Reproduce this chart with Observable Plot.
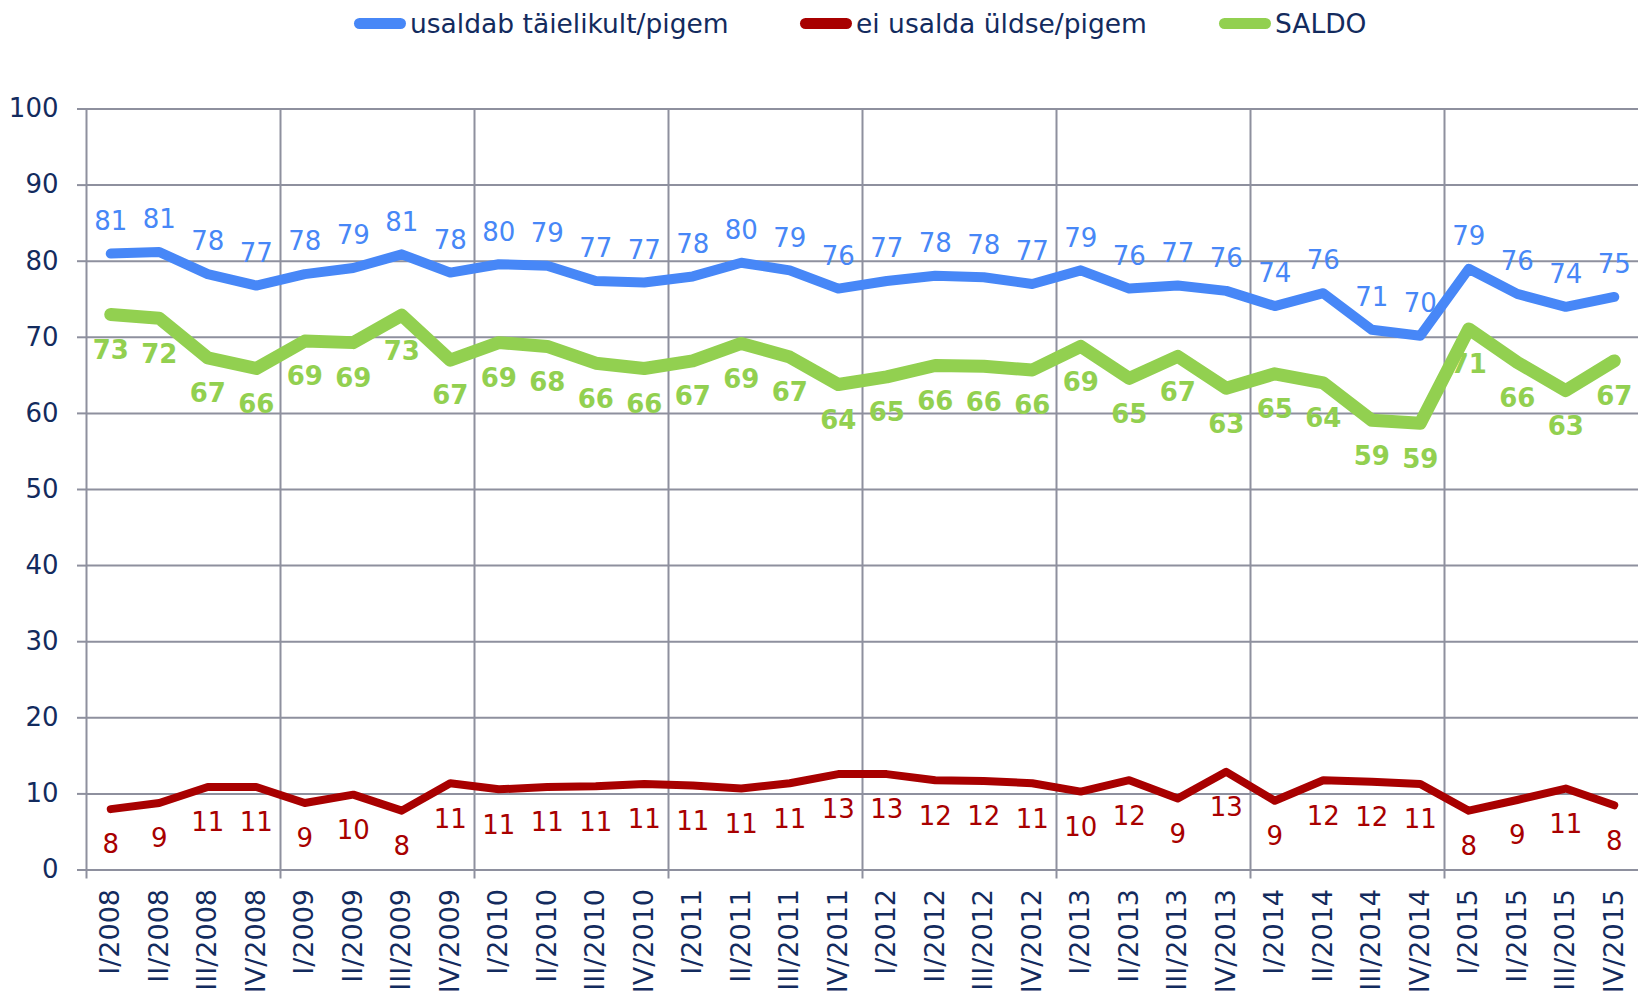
<!DOCTYPE html>
<html>
<head>
<meta charset="utf-8">
<script src="https://cdn.jsdelivr.net/npm/d3@7"></script>
<script src="https://cdn.jsdelivr.net/npm/@observablehq/plot@0.6"></script>
<style>
  html, body { margin: 0; padding: 0; background: #ffffff; }
  #wrap { position: relative; width: 1641px; height: 1000px; overflow: hidden; font-family: "DejaVu Sans", Verdana, sans-serif; }
  #legend { position: relative; height: 46px; width: 1641px; }
  .item { position: absolute; top: 0; height: 46px; display: flex; align-items: center; font-size: 26.5px; color: #132b5e; white-space: nowrap; }
  .sw { display: inline-block; width: 52px; height: 11px; border-radius: 6px; margin-right: 4px; }
</style>
</head>
<body>
<div id="wrap">
  <div id="legend"></div>
  <div id="chart"></div>
</div>
<script>
const quarters = [
  "I/2008","II/2008","III/2008","IV/2008",
  "I/2009","II/2009","III/2009","IV/2009",
  "I/2010","II/2010","III/2010","IV/2010",
  "I/2011","II/2011","III/2011","IV/2011",
  "I/2012","II/2012","III/2012","IV/2012",
  "I/2013","II/2013","III/2013","IV/2013",
  "I/2014","II/2014","III/2014","IV/2014",
  "I/2015","II/2015","III/2015","IV/2015"
];

// usaldab täielikult/pigem
const trust = [81.0, 81.2, 78.3, 76.8, 78.3, 79.1, 80.9, 78.5, 79.6, 79.4, 77.4, 77.2,
               78.0, 79.8, 78.8, 76.4, 77.4, 78.1, 77.9, 77.0, 78.8, 76.4, 76.8, 76.1,
               74.1, 75.8, 71.0, 70.2, 79.0, 75.7, 74.0, 75.3];
const trustLabels = [81, 81, 78, 77, 78, 79, 81, 78, 80, 79, 77, 77, 78, 80, 79, 76,
                     77, 78, 78, 77, 79, 76, 77, 76, 74, 76, 71, 70, 79, 76, 74, 75];

// ei usalda üldse/pigem
const distrust = [8.0, 8.8, 10.9, 10.9, 8.8, 9.9, 7.8, 11.4, 10.6, 10.9, 11.0, 11.3,
                  11.1, 10.7, 11.4, 12.6, 12.6, 11.8, 11.7, 11.4, 10.3, 11.8, 9.4, 12.9,
                  9.1, 11.8, 11.6, 11.3, 7.8, 9.2, 10.7, 8.5];
const distrustLabels = [8, 9, 11, 11, 9, 10, 8, 11, 11, 11, 11, 11, 11, 11, 11, 13,
                        13, 12, 12, 11, 10, 12, 9, 13, 9, 12, 12, 11, 8, 9, 11, 8];

// SALDO
const saldo = [73.0, 72.5, 67.3, 65.9, 69.5, 69.3, 72.9, 67.0, 69.3, 68.8, 66.6, 65.9,
               66.9, 69.2, 67.4, 63.8, 64.8, 66.3, 66.2, 65.7, 68.8, 64.6, 67.5, 63.3,
               65.2, 64.0, 59.1, 58.7, 71.1, 66.7, 63.0, 66.9];
const saldoLabels = [73, 72, 67, 66, 69, 69, 73, 67, 69, 68, 66, 66, 67, 69, 67, 64,
                     65, 66, 66, 66, 69, 65, 67, 63, 65, 64, 59, 59, 71, 66, 63, 67];

const yTicks = [0, 10, 20, 30, 40, 50, 60, 70, 80, 90, 100];

const seriesNames = ["usaldab täielikult/pigem", "ei usalda üldse/pigem", "SALDO"];
const seriesColors = ["#4787f7", "#a80000", "#92d050"];

const navy = "#132b5e";
const gridGray = "#8e909e";

// legend
const legendLeft = [354, 800, 1219];
const legend = document.getElementById("legend");
seriesNames.forEach((name, k) => {
  const it = document.createElement("div");
  it.className = "item";
  it.style.left = legendLeft[k] + "px";
  const sw = document.createElement("span");
  sw.className = "sw";
  sw.style.background = seriesColors[k];
  it.appendChild(sw);
  it.appendChild(document.createTextNode(name));
  legend.appendChild(it);
});

const idx = quarters.map((q, i) => i);
// year boundaries (between IV and I quarters), including the left edge
const yearBounds = idx.filter(i => i % 4 === 0).map(i => i - 0.5);

const X = (d, i) => i;
const Y = d => d;

const chart = Plot.plot({
  width: 1641,
  height: 954,
  marginLeft: 86,
  marginRight: 3,
  marginTop: 62.5,
  marginBottom: 130.5,
  style: { fontFamily: "DejaVu Sans, Verdana, sans-serif", background: "transparent", overflow: "visible" },
  x: { type: "linear", domain: [-0.5, quarters.length - 0.5] },
  y: { domain: [0, 100] },
  marks: [
    Plot.gridY(yTicks, { stroke: gridGray, strokeOpacity: 1, strokeWidth: 2 }),
    Plot.gridX(yearBounds, { stroke: gridGray, strokeOpacity: 1, strokeWidth: 2 }),
    Plot.axisY(yTicks, { tickSize: 9, tickPadding: 19, stroke: gridGray, strokeWidth: 2, fill: navy, fontSize: 26 }),
    Plot.axisX(yearBounds, { tickSize: 9, tickFormat: () => "", stroke: gridGray, strokeWidth: 2 }),
    Plot.axisX(idx, { tickSize: 0, tickPadding: 19, tickRotate: -90, tickFormat: i => quarters[i], fill: navy, fontSize: 27 }),

    Plot.line(trust, { x: X, y: Y, stroke: seriesColors[0], strokeWidth: 10, strokeLinejoin: "round", strokeLinecap: "round" }),
    Plot.text(trust, { x: X, y: Y, text: (d, i) => String(trustLabels[i]), dy: -32, fill: seriesColors[0], fontSize: 26 }),

    Plot.line(distrust, { x: X, y: Y, stroke: seriesColors[1], strokeWidth: 8, strokeLinejoin: "round", strokeLinecap: "round" }),
    Plot.text(distrust, { x: X, y: Y, text: (d, i) => String(distrustLabels[i]), dy: 36, fill: seriesColors[1], fontSize: 26 }),

    Plot.line(saldo, { x: X, y: Y, stroke: seriesColors[2], strokeWidth: 13, strokeLinejoin: "round", strokeLinecap: "round" }),
    Plot.text(saldo, { x: X, y: Y, text: (d, i) => String(saldoLabels[i]), dy: 36, fill: seriesColors[2], fontSize: 26, fontWeight: "bold" })
  ]
});
document.getElementById("chart").appendChild(chart);
</script>
</body>
</html>
